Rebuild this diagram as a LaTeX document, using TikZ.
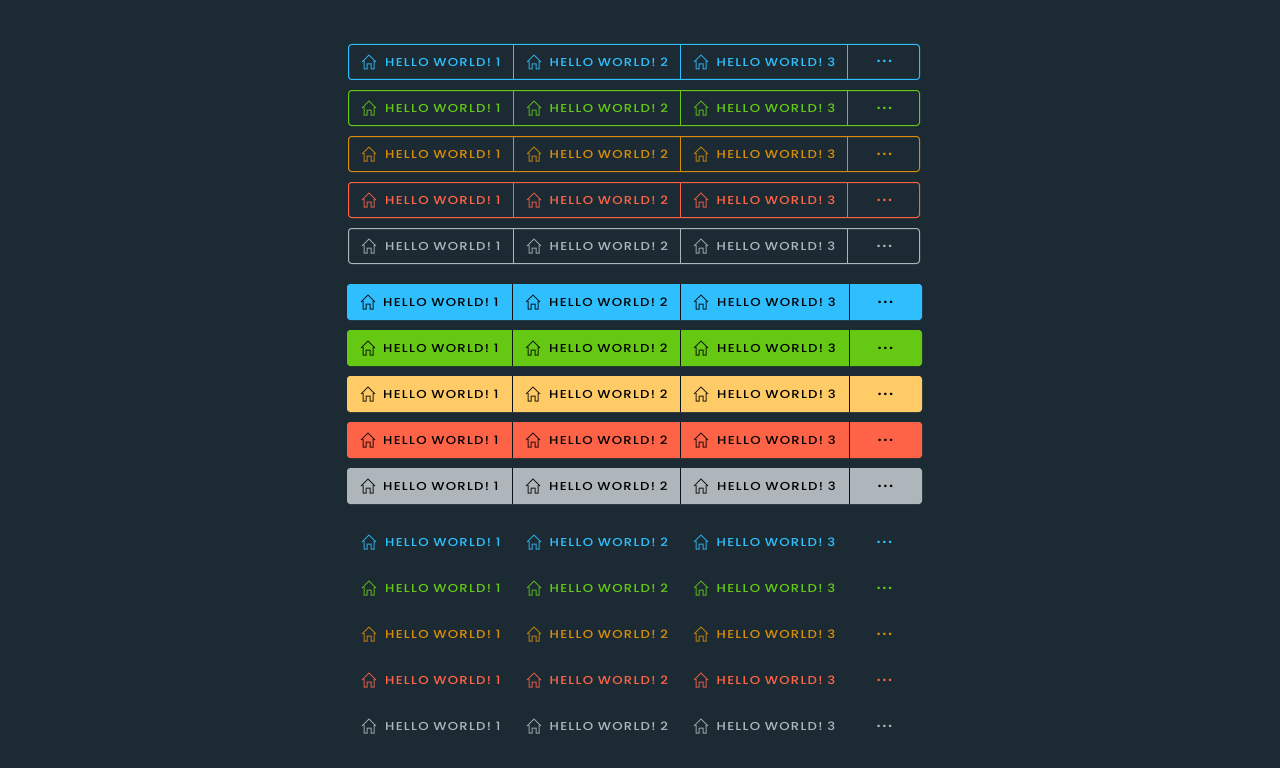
\documentclass[tikz,border=0pt]{standalone}
\usepackage{fontspec}
\newfontfamily\btnfont{Poppins}[UprightFont=* Medium,FakeStretch=1.15,LetterSpace=11]
\newfontfamily\dotfont{Poppins}[UprightFont=* Bold,LetterSpace=16]
\usetikzlibrary{
    positioning,
    calc
}
\definecolor{pagebg}{HTML}{1C2B33}
\definecolor{btnblue}{HTML}{2FBFFF}
\definecolor{btngreen}{HTML}{65C914}
\definecolor{btnorange}{HTML}{D98C0A}
\definecolor{btnyellow}{HTML}{FFCB66}
\definecolor{btnred}{HTML}{FF6347}
\definecolor{btngray}{HTML}{AEB6BB}
\definecolor{btndark}{HTML}{0B1216}

\begin{document}
\begin{tikzpicture}[
    x=1pt,
    y=-1pt,
    outlinebox/.style={
        rectangle,
        rounded corners=3pt,
        minimum width=571pt,
        minimum height=35pt,
        line width=1pt,
        draw=#1
    },
    filledbox/.style={
        rectangle,
        rounded corners=3pt,
        minimum width=575pt,
        minimum height=36pt,
        fill=#1
    },
    label/.style={
        anchor=base west,
        inner sep=0pt,
        font=\btnfont\fontsize{11.5}{12}\selectfont,
        text=#1
    },
    threedots/.style={
        anchor=base,
        inner sep=0pt,
        font=\dotfont\fontsize{13}{13}\selectfont,
        text=#1
    },
    divider/.style={
        line width=1pt,
        draw=#1
    },
    house/.pic={
        \draw[line width=1pt, opacity=0.85, pic actions]
            (-7,0) -- (0,-7) -- (7,0)
            (-5,-1) -- (-5,7) -- (-2,7) -- (-2,2) -- (2,2) -- (2,7) -- (5,7) -- (5,-1);
    }
]

\useasboundingbox[fill=pagebg] (0,0) rectangle (1280,768);

% =====================================================
% Outline rows
% =====================================================

\foreach \col [count=\i from 0] in {btnblue,btngreen,btnorange,btnred,btngray} {
    \node[outlinebox=\col] (frame\i) at (634,62+46*\i) {};
    \draw[divider=\col] (513.5,0 |- frame\i.north) -- (513.5,0 |- frame\i.south);
    \draw[divider=\col] (680.5,0 |- frame\i.north) -- (680.5,0 |- frame\i.south);
    \draw[divider=\col] (847.5,0 |- frame\i.north) -- (847.5,0 |- frame\i.south);
    \pic[draw=\col] at (369,62+46*\i) {house};
    \pic[draw=\col] at (534,62+46*\i) {house};
    \pic[draw=\col] at (701,62+46*\i) {house};
    \node[label=\col] (one\i) at (385,66.3+46*\i) {HELLO WORLD! 1};
    \node[label=\col] (two\i) at (549.5,66.3+46*\i) {HELLO WORLD! 2};
    \node[label=\col] (three\i) at (716.5,66.3+46*\i) {HELLO WORLD! 3};
    \node[threedots=\col] (more\i) at (884.5,63+46*\i) {...};
}

% =====================================================
% Filled rows
% =====================================================

\foreach \col [count=\i from 0] in {btnblue,btngreen,btnyellow,btnred,btngray} {
    \node[filledbox=\col] (solid\i) at (634.5,302+46*\i) {};
    \draw[divider=btndark] (512.5,0 |- solid\i.north) -- (512.5,0 |- solid\i.south);
    \draw[divider=btndark] (680.5,0 |- solid\i.north) -- (680.5,0 |- solid\i.south);
    \draw[divider=btndark] (849.5,0 |- solid\i.north) -- (849.5,0 |- solid\i.south);
    \pic[draw=black] at (368,302+46*\i) {house};
    \pic[draw=black] at (533,302+46*\i) {house};
    \pic[draw=black] at (701,302+46*\i) {house};
    \node[label=black] (sone\i) at (383,306.3+46*\i) {HELLO WORLD! 1};
    \node[label=black] (stwo\i) at (549,306.3+46*\i) {HELLO WORLD! 2};
    \node[label=black] (sthree\i) at (717,306.3+46*\i) {HELLO WORLD! 3};
    \node[threedots=black] (smore\i) at (885.5,303+46*\i) {...};
}

% =====================================================
% Plain rows
% =====================================================

\foreach \col [count=\i from 0] in {btnblue,btngreen,btnorange,btnred,btngray} {
    \pic[draw=\col] at (369,542+46*\i) {house};
    \pic[draw=\col] at (534,542+46*\i) {house};
    \pic[draw=\col] at (701,542+46*\i) {house};
    \node[label=\col] (pone\i) at (385,546.3+46*\i) {HELLO WORLD! 1};
    \node[label=\col] (ptwo\i) at (549.5,546.3+46*\i) {HELLO WORLD! 2};
    \node[label=\col] (pthree\i) at (716.5,546.3+46*\i) {HELLO WORLD! 3};
    \node[threedots=\col] (pmore\i) at (884.5,543+46*\i) {...};
}

\end{tikzpicture}
\end{document}
